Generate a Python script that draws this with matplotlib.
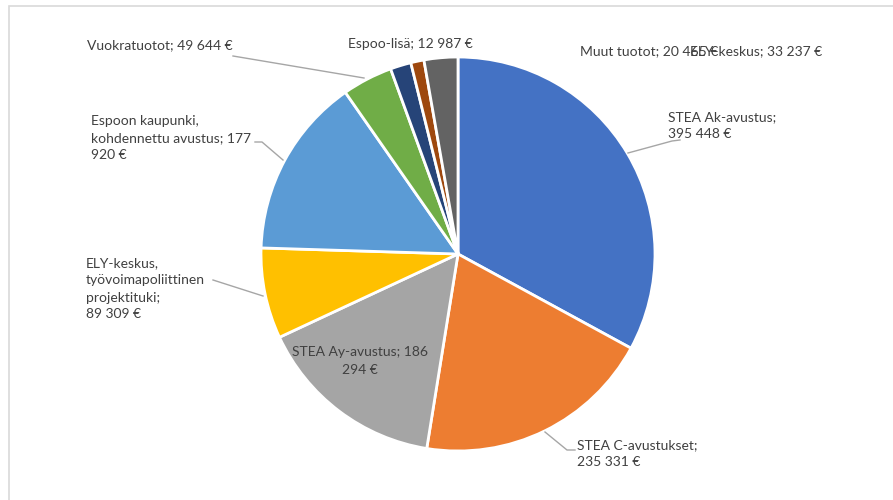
import matplotlib.pyplot as plt
from matplotlib.patches import Rectangle

# Revenue breakdown (EUR)
categories = [
    "STEA Ak-avustus",
    "STEA C-avustukset",
    "STEA Ay-avustus",
    "ELY-keskus, työvoimapoliittinen projektituki",
    "Espoon kaupunki, kohdennettu avustus",
    "Vuokratuotot",
    "Muut tuotot",
    "Espoo-lisä",
    "ELY-keskus",
]
values = [395448, 235331, 186294, 89309, 177920, 49644, 20465, 12987, 33237]
colors = ["#4472C4", "#ED7D31", "#A5A5A5", "#FFC000", "#5B9BD5",
          "#70AD47", "#264478", "#9E480E", "#636363"]

W, H = 893, 500
TEXT = "#404040"
LEADER = "#A6A6A6"


def eur(v):
    return f"{v:,}".replace(",", " ") + " €"


def py(y):
    # pixel row (from top) -> data y
    return H - y


fig = plt.figure(figsize=(W / 100, H / 100), dpi=100)
ax = fig.add_axes([0, 0, 1, 1])
ax.set_xlim(0, W)
ax.set_ylim(0, H)
ax.set_aspect("equal")
ax.axis("off")

# chart frame (cut off at right and bottom in the screenshot)
ax.add_patch(Rectangle((9, py(560)), 950, 554, fill=False,
                       edgecolor="#D9D9D9", linewidth=1.2))

ax.pie(values, colors=colors, startangle=90, counterclock=False,
       center=(458, py(254)), radius=197,
       wedgeprops=dict(edgecolor="white", linewidth=2))
ax.set_xlim(0, W)
ax.set_ylim(0, H)

font = dict(family="Lato", fontsize=10, color=TEXT, linespacing=1.5)

labels = [
    ("STEA Ak-avustus;\n" + eur(values[0]), 668, 126, "left"),
    ("STEA C-avustukset;\n" + eur(values[1]), 577, 454, "left"),
    ("STEA Ay-avustus; 186\n294 €", 360, 361, "center"),
    ("ELY-keskus,\ntyövoimapoliittinen\nprojektituki;\n" + eur(values[3]), 86, 289, "left"),
    ("Espoon kaupunki,\nkohdennettu avustus; 177\n920 €", 91, 138, "left"),
    ("Vuokratuotot; " + eur(values[5]), 87, 45, "left"),
    ("Muut tuotot; " + eur(values[6]), 580, 51, "left"),
    ("Espoo-lisä; " + eur(values[7]), 348, 44, "left"),
    ("ELY-keskus; " + eur(values[8]), 690, 51, "left"),
]
for txt, x, y, ha in labels:
    ax.text(x, py(y), txt, ha=ha, va="center", multialignment=ha, **font)

leaders = [
    [(680, 140), (672, 141), (628, 153)],
    [(575, 450), (567, 450), (545, 432)],
    [(213, 280), (263, 296)],
    [(255, 142), (262, 142), (283, 160)],
    [(233, 56), (364, 78)],
]
for pts in leaders:
    xs = [p[0] for p in pts]
    ys = [py(p[1]) for p in pts]
    ax.plot(xs, ys, color=LEADER, linewidth=1)

fig.savefig("out.png", dpi=100)
